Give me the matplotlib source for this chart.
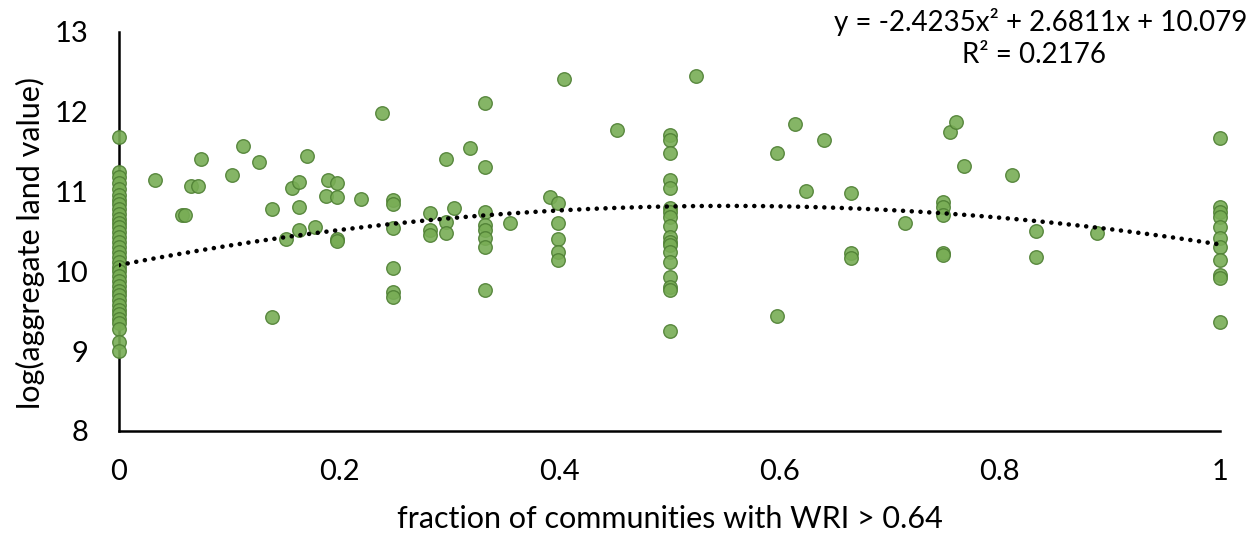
import numpy as np
import matplotlib
matplotlib.use("Agg")
import matplotlib.pyplot as plt

plt.rcParams['font.family'] = ['Lato', 'DejaVu Sans']

# --- data ---
col0_y = [11.68, 11.25, 11.18, 11.11, 11.03, 10.96, 10.90, 10.84, 10.78, 10.72,
          10.66, 10.60, 10.55, 10.49, 10.43, 10.37, 10.30, 10.24, 10.18, 10.12,
          10.06, 10.00, 9.94, 9.88, 9.82, 9.76, 9.70, 9.64, 9.58, 9.52,
          9.46, 9.40, 9.35, 9.28, 9.12, 9.00]

mid_x = [0.033, 0.057, 0.060, 0.065, 0.072, 0.074, 0.103, 0.113, 0.127, 0.139,
         0.139, 0.152, 0.157, 0.163, 0.163, 0.163, 0.171, 0.178, 0.190, 0.198,
         0.188, 0.198, 0.198, 0.198, 0.220, 0.239, 0.249, 0.249, 0.249, 0.249,
         0.249, 0.249, 0.282, 0.282, 0.282, 0.297, 0.297, 0.297, 0.304, 0.319,
         0.332, 0.332, 0.332, 0.332, 0.332, 0.332, 0.332, 0.332, 0.355, 0.391,
         0.399, 0.399, 0.399, 0.399, 0.399, 0.404, 0.452, 0.524, 0.598, 0.598,
         0.614, 0.624, 0.640, 0.665, 0.665, 0.665, 0.714, 0.748, 0.748, 0.748,
         0.748, 0.748, 0.755, 0.760, 0.767, 0.811, 0.833, 0.833, 0.888]
mid_y = [11.15, 10.71, 10.71, 11.07, 11.07, 11.41, 11.21, 11.57, 11.37, 10.78,
         9.43, 10.41, 11.05, 11.12, 10.81, 10.52, 11.45, 10.56, 11.15, 11.11,
         10.94, 10.93, 10.41, 10.38, 10.91, 11.98, 10.89, 10.85, 10.54, 10.04,
         9.74, 9.68, 10.73, 10.52, 10.46, 11.41, 10.62, 10.48, 10.79, 11.55,
         12.11, 11.31, 10.74, 10.58, 10.52, 10.42, 10.31, 9.77, 10.61, 10.93,
         10.86, 10.61, 10.41, 10.24, 10.14, 12.41, 11.77, 12.45, 11.48, 9.44,
         11.85, 11.01, 11.65, 10.98, 10.23, 10.17, 10.61, 10.87, 10.81, 10.71,
         10.23, 10.20, 11.75, 11.87, 11.32, 11.21, 10.51, 10.18, 10.48]

col05_y = [11.71, 11.65, 11.48, 11.15, 11.05, 10.79, 10.74, 10.68, 10.57, 10.43,
           10.37, 10.33, 10.24, 10.12, 9.93, 9.81, 9.77, 9.25]

col1_y = [11.67, 10.81, 10.74, 10.68, 10.56, 10.42, 10.31, 10.14, 9.95, 9.92, 9.37]

# trendline as printed on the chart
coef = [-2.4235, 2.6811, 10.079]
eq_text = "y = -2.4235x² + 2.6811x + 10.079"
r2_text = "R² = 0.2176"

x_all = [0.0] * len(col0_y) + mid_x + [0.5] * len(col05_y) + [1.0] * len(col1_y)
y_all = col0_y + mid_y + col05_y + col1_y

fig = plt.figure(figsize=(12.57, 5.4), dpi=100)
ax = fig.add_axes([0.0947, 0.2019, 0.8759, 0.7389])

ax.scatter(x_all, y_all, s=95, facecolor='#78ad55', edgecolor='#4f8034',
           linewidth=1.0, alpha=0.9, zorder=3, clip_on=False)

xt = np.linspace(0, 1, 200)
ax.plot(xt, np.polyval(coef, xt), color='black', linewidth=3.3,
        linestyle=(0, (0.01, 1.9)), dash_capstyle='round', zorder=4)

ax.set_xlim(0, 1)
ax.set_ylim(8, 13)
ax.set_xticks([0, 0.2, 0.4, 0.6, 0.8, 1])
ax.set_xticklabels(["0", "0.2", "0.4", "0.6", "0.8", "1"])
ax.set_yticks([8, 9, 10, 11, 12, 13])
ax.tick_params(axis='both', length=0, labelsize=21, colors='black')
ax.tick_params(axis='x', pad=20)
ax.tick_params(axis='y', pad=22)

for s in ['top', 'right']:
    ax.spines[s].set_visible(False)
for s in ['left', 'bottom']:
    ax.spines[s].set_linewidth(1.8)
    ax.spines[s].set_color('black')

ax.set_xlabel("fraction of communities with WRI > 0.64", fontsize=22)
ax.set_ylabel("log(aggregate land value)", fontsize=22)
ax.xaxis.set_label_coords(0.5, -0.185)
ax.yaxis.set_label_coords(-0.067, 0.47)

fig.text(0.992, 0.959, eq_text, fontsize=20, ha='right', va='center')
fig.text(0.8226, 0.898, r2_text, fontsize=20, ha='center', va='center')

fig.savefig("out.png", dpi=100)
